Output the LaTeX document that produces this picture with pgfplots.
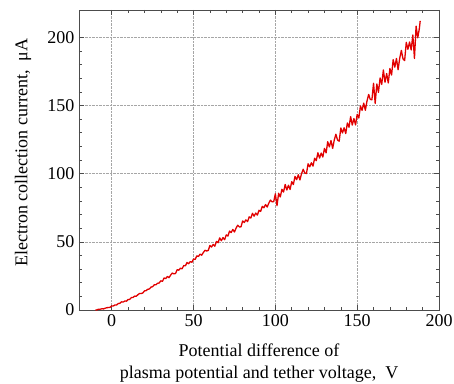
\documentclass[border=0pt]{standalone}
\usepackage{pgfplots}
\pgfplotsset{compat=1.18}
\usepackage{pgfplotstable}
\usepackage{fontspec}
\setmainfont{Liberation Serif}
\definecolor{curvered}{RGB}{225,0,0}
\pgfplotstableread{
x y
-10 0.0
-9 0.1
-8 0.6
-7 0.6
-6 0.9
-5 0.8
-4 1.3
-3 1.7
-2 1.8
-1 2.0
0 3.0
1 3.0
2 3.7
3 3.7
4 4.8
5 4.9
6 6.0
7 5.8
8 6.6
9 6.5
10 7.7
11 7.8
12 9.1
13 9.2
14 10.2
15 10.1
16 11.2
17 12.1
18 12.1
19 12.5
20 14.0
21 14.2
22 15.2
23 15.4
24 16.8
25 17.1
26 18.5
27 18.5
28 19.6
29 19.8
30 21.4
31 21.0
32 23.5
33 23.0
34 24.6
35 23.7
36 25.6
37 27.1
38 26.5
39 26.8
40 29.6
41 29.2
42 30.7
43 30.2
44 32.6
45 32.4
46 34.8
47 33.9
48 35.5
49 35.0
50 37.4
51 37.1
52 39.7
53 39.3
54 41.0
55 40.2
56 42.2
57 43.8
58 43.3
59 43.7
60 47.3
61 46.2
62 48.1
63 46.8
64 50.3
65 49.4
66 52.9
67 50.8
68 53.1
69 51.6
70 55.1
71 54.2
72 57.9
73 56.8
74 59.1
75 57.2
76 60.1
77 62.2
78 60.9
79 61.0
80 65.3
81 64.2
82 66.1
83 64.8
84 68.3
85 67.4
86 70.9
87 68.8
88 71.1
89 69.6
90 73.1
91 72.3
92 76.0
93 75.0
94 77.3
95 75.5
96 78.4
97 80.6
98 79.3
99 79.5
100 85.2
101 76.5
102 85.6
103 82.9
104 88.5
105 86.5
106 92.1
107 88.0
108 91.5
109 88.4
110 94.1
111 92.0
112 98.0
113 95.6
114 99.2
115 95.4
116 100.0
117 103.2
118 100.4
119 100.1
120 107.2
121 105.0
122 108.0
123 105.5
124 111.3
125 109.5
126 115.3
127 111.4
128 115.1
129 112.2
130 118.5
131 115.2
132 123.4
133 119.6
134 124.3
135 118.5
136 124.7
137 128.9
138 124.6
139 123.8
140 133.5
141 129.8
142 133.6
143 129.4
144 137.2
145 134.0
146 141.8
147 135.6
148 140.4
149 135.7
150 143.5
151 140.8
152 149.6
153 146.4
154 151.7
155 146.5
156 153.3
157 158.1
158 154.4
159 154.2
160 166.3
161 151.5
162 165.8
163 159.6
164 170.2
165 165.4
166 176.0
167 167.0
168 173.4
169 166.5
170 177.1
171 172.3
172 183.6
173 178.1
174 184.5
175 176.2
176 184.7
177 190.4
178 184.2
179 182.9
180 196.3
181 191.2
182 196.6
183 190.7
184 201.7
185 184.5
186 208.2
187 199.6
188 206.4
188.5 212.0
}\datatable
\begin{document}
\begin{tikzpicture}
\begin{axis}[
  scale only axis,
  width=360pt, height=300pt,
  xmin=-20, xmax=200, ymin=0, ymax=220,
  xtick={0,50,100,150,200},
  ytick={0,50,100,150,200},
  minor tick num=4,
  tick align=inside,
  tick pos=both,
  major tick length=5pt,
  minor tick length=3pt,
  grid=major,
  major grid style={gray!70, densely dotted, line width=0.6pt},
  axis line style={black!70, line width=0.7pt},
  tick style={black!70, line width=0.6pt},
  every tick label/.append style={font=\fontsize{18}{20}\selectfont},
  xticklabel style={yshift=-1pt},
  yticklabel style={xshift=-1pt},
  /pgf/number format/assume math mode=true,
  xlabel={Potential difference of\\plasma potential and tether voltage,\ \ V},
  xlabel style={align=center, font=\fontsize{18}{22}\selectfont, at={(axis description cs:0.5,0)}, anchor=north, inner sep=0pt, yshift=-34pt},
  ylabel={Electron collection current,\ \ μA},
  ylabel style={font=\fontsize{18}{20}\selectfont, at={(axis description cs:0,0.525)}, anchor=center, yshift=56pt},
]
\addplot[color=curvered, line width=1.3pt, line join=round] table[x=x, y=y] {\datatable};
\end{axis}
\pgfresetboundingbox
\path[use as bounding box] (-79pt,-73pt) rectangle (375pt,310pt);
\end{tikzpicture}
\end{document}
